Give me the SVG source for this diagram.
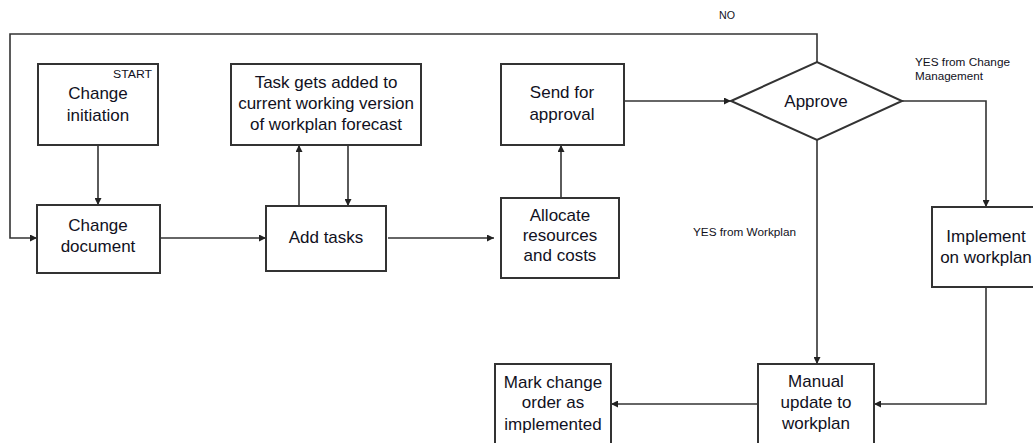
<svg xmlns="http://www.w3.org/2000/svg" width="1033" height="443" viewBox="0 0 1033 443">
  <style>
    .box { fill: #ffffff; stroke: #333333; stroke-width: 2; }
    .lbl { font-family: "Liberation Sans", Arial, sans-serif; font-size: 17px; fill: #111122; text-anchor: middle; }
    .small { font-family: "Liberation Sans", Arial, sans-serif; font-size: 10px; fill: #111122; }
    .edge { fill: none; stroke: #333333; stroke-width: 1.6; marker-end: url(#arrow); }
  </style>
  <defs>
    <marker id="arrow" viewBox="0 0 10 10" refX="10" refY="5" markerWidth="7" markerHeight="7" markerUnits="userSpaceOnUse" orient="auto">
      <path d="M0,0 L10,5 L0,10 Z" fill="#222222"/>
    </marker>
  </defs>
  <rect width="1033" height="443" fill="#ffffff"/>

  <!-- connectors -->
  <g id="connectors">
    <path class="edge" d="M98,145 V205"/>
    <path class="edge" d="M817,62 V34 H10 V238 H37"/>
    <path class="edge" d="M160,238 H266"/>
    <path class="edge" d="M299,206 V145"/>
    <path class="edge" d="M348,145 V206"/>
    <path class="edge" d="M388,238 H494"/>
    <path class="edge" d="M561,198 V145"/>
    <path class="edge" d="M624,101 H731"/>
    <path class="edge" d="M902,101 H986 V207"/>
    <path class="edge" d="M817,140 V364"/>
    <path class="edge" d="M986,287 V404 H874"/>
    <path class="edge" d="M758,404 H611"/>
    <text class="small" x="719" y="19" textLength="16" lengthAdjust="spacingAndGlyphs">NO</text>
    <text class="small" x="915" y="66" textLength="95" lengthAdjust="spacingAndGlyphs">YES from Change</text>
    <text class="small" x="915" y="80" textLength="68" lengthAdjust="spacingAndGlyphs">Management</text>
    <text class="small" x="693" y="236" textLength="103" lengthAdjust="spacingAndGlyphs">YES from Workplan</text>
  </g>

  <g id="change-initiation">
    <rect class="box" x="38" y="64" width="120" height="81"/>
    <text class="small" x="113" y="78" font-size="11.5" textLength="39" lengthAdjust="spacingAndGlyphs">START</text>
    <text class="lbl" x="98" y="99">Change</text>
    <text class="lbl" x="98" y="121">initiation</text>
  </g>

  <g id="change-document">
    <rect class="box" x="37" y="205" width="123" height="68"/>
    <text class="lbl" x="98" y="231">Change</text>
    <text class="lbl" x="98" y="252">document</text>
  </g>

  <g id="task-added">
    <rect class="box" x="231" y="64" width="190" height="81"/>
    <text class="lbl" x="326" y="88">Task gets added to</text>
    <text class="lbl" x="326" y="109">current working version</text>
    <text class="lbl" x="326" y="130">of workplan forecast</text>
  </g>

  <g id="add-tasks">
    <rect class="box" x="266" y="206" width="120" height="65"/>
    <text class="lbl" x="326" y="243">Add tasks</text>
  </g>

  <g id="send-for-approval">
    <rect class="box" x="501" y="64" width="123" height="81"/>
    <text class="lbl" x="562" y="98">Send for</text>
    <text class="lbl" x="562" y="120">approval</text>
  </g>

  <g id="allocate">
    <rect class="box" x="501" y="198" width="118" height="80"/>
    <text class="lbl" x="560" y="221">Allocate</text>
    <text class="lbl" x="560" y="241">resources</text>
    <text class="lbl" x="560" y="261">and costs</text>
  </g>

  <g id="approve">
    <polygon class="box" points="731,101 817,62 902,101 817,140"/>
    <text class="lbl" x="816" y="107">Approve</text>
  </g>

  <g id="implement">
    <rect class="box" x="932" y="207" width="108" height="80"/>
    <text class="lbl" x="986" y="242">Implement</text>
    <text class="lbl" x="986" y="263">on workplan</text>
  </g>

  <g id="manual-update">
    <rect class="box" x="758" y="364" width="116" height="90"/>
    <text class="lbl" x="816" y="387">Manual</text>
    <text class="lbl" x="816" y="408">update to</text>
    <text class="lbl" x="816" y="429">workplan</text>
  </g>

  <g id="mark-implemented">
    <rect class="box" x="495" y="364" width="116" height="90"/>
    <text class="lbl" x="553" y="388">Mark change</text>
    <text class="lbl" x="553" y="408">order as</text>
    <text class="lbl" x="553" y="430">implemented</text>
  </g>
</svg>
